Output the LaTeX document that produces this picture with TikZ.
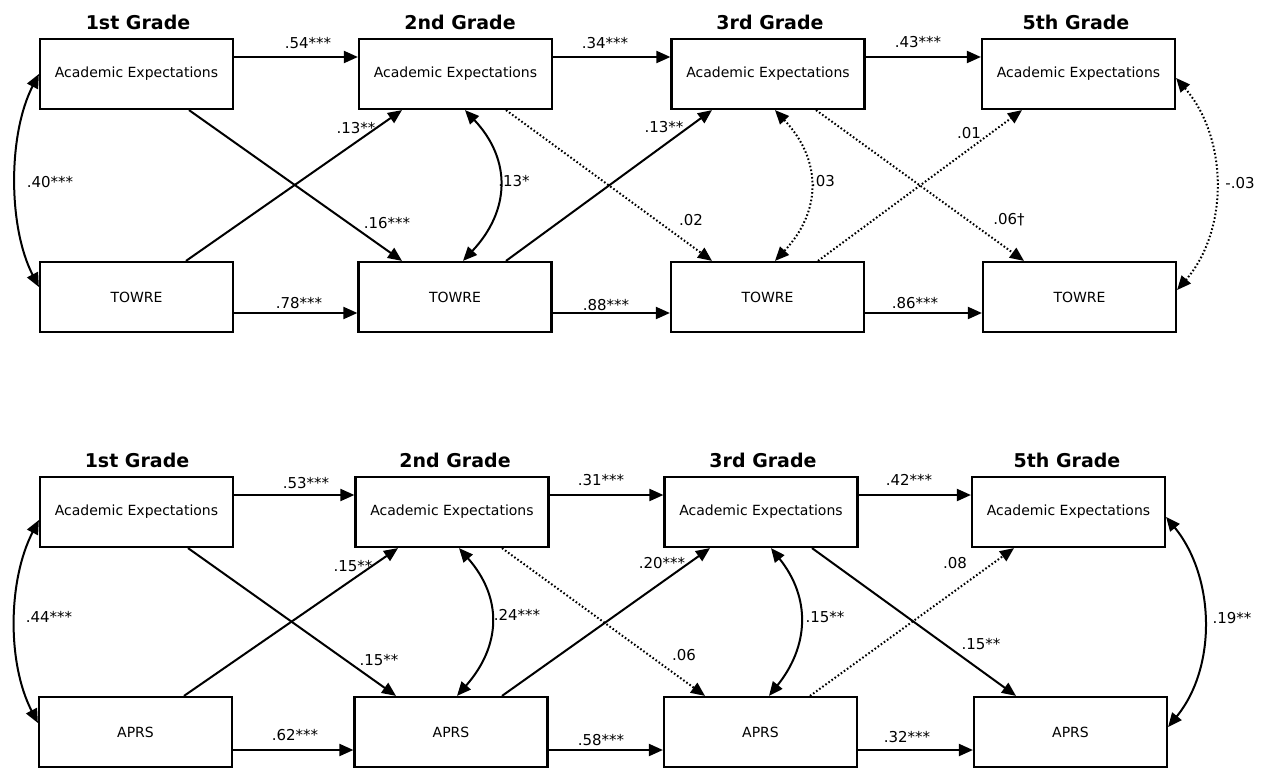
\documentclass[tikz,border=0pt]{standalone}
\usepackage{fontspec}
\setmainfont{DejaVu Sans}
\usetikzlibrary{arrows.meta}
\begin{document}
\begin{tikzpicture}[x=1pt,y=-1pt,
  box/.style={draw, line width=2.2pt, minimum width=193pt, minimum height=70pt, inner sep=0pt, font=\fontsize{14}{16}\selectfont},
  gradetitle/.style={font=\fontsize{19}{22}\selectfont\bfseries, inner sep=0pt},
  lab/.style={font=\fontsize{15}{17}\selectfont, inner sep=0pt},
  >={Triangle[length=14pt,width=12pt]},
  reg/.style={line width=2pt, ->},
  regdot/.style={line width=2pt, ->, dash pattern=on 1.6pt off 2.2pt},
  cov/.style={line width=2pt, <->},
  covdot/.style={line width=2pt, <->, dash pattern=on 1.6pt off 2.2pt}
]
\useasboundingbox (0,0) rectangle (1274,770);

% ---------------- top panel ----------------
\node[gradetitle] (g1) at (138,22) {1st Grade};
\node[gradetitle] (g2) at (460,22) {2nd Grade};
\node[gradetitle] (g3) at (770,22) {3rd Grade};
\node[gradetitle] (g5) at (1076,22) {5th Grade};

\node[box] (a1) at (136.5,74) {Academic Expectations};
\node[box] (a2) at (455.5,74) {Academic Expectations};
\node[box] (a3) at (768,74) {Academic Expectations};
\node[box] (a5) at (1078.5,74) {Academic Expectations};
\node[box] (t1) at (136.5,297) {TOWRE};
\node[box] (t2) at (455,297) {TOWRE};
\node[box] (t3) at (767.5,297) {TOWRE};
\node[box] (t5) at (1079.5,297) {TOWRE};

\draw[reg] ([yshift=17pt]a1.east) -- ([yshift=17pt]a2.west);
\draw[reg] ([yshift=17pt]a2.east) -- ([yshift=17pt]a3.west);
\draw[reg] ([yshift=17pt]a3.east) -- ([yshift=17pt]a5.west);
\draw[reg] ([yshift=-16pt]t1.east) -- ([yshift=-16pt]t2.west);
\draw[reg] ([yshift=-16pt]t2.east) -- ([yshift=-16pt]t3.west);
\draw[reg] ([yshift=-16pt]t3.east) -- ([yshift=-16pt]t5.west);

\draw[reg] ([xshift=52.5pt]a1.south) -- ([xshift=-53pt]t2.north);
\draw[reg] ([xshift=49.5pt]t1.north) -- ([xshift=-53.5pt]a2.south);
\draw[reg] ([xshift=51pt]t2.north) -- ([xshift=-56pt]a3.south);
\draw[regdot] ([xshift=50.5pt]a2.south) -- ([xshift=-55.5pt]t3.north);
\draw[regdot] ([xshift=48pt]a3.south) -- ([xshift=-55.5pt]t5.north);
\draw[regdot] ([xshift=50.5pt]t3.north) -- ([xshift=-56.5pt]a5.south);

\draw[cov] (a1.west) .. controls +(-31,60) and +(-31,-60) .. ([yshift=10pt]t1.west);
\draw[cov] ([xshift=9.5pt]a2.south) .. controls +(47,50) and +(47,-50) .. ([xshift=8pt]t2.north);
\draw[covdot] ([xshift=7pt]a3.south) .. controls +(47,50) and +(47,-50) .. ([xshift=7.5pt]t3.north);
\draw[covdot] ([yshift=-4pt]a5.east) .. controls +(52,60) and +(52,-60) .. ([yshift=7pt]t5.east);

\node[lab] (l1) at (308,43) {.54***};
\node[lab] (l2) at (605,43) {.34***};
\node[lab] (l3) at (918,42) {.43***};
\node[lab] (l4) at (299,303) {.78***};
\node[lab] (l5) at (606,305) {.88***};
\node[lab] (l6) at (915,303) {.86***};
\node[lab] (l7) at (50,182) {.40***};
\node[lab] (l8) at (356,128) {.13**};
\node[lab] (l9) at (387,223) {.16***};
\node[lab] (l10) at (514,181) {.13*};
\node[lab] (l11) at (664,127) {.13**};
\node[lab] (l12) at (691,220) {.02};
\node[lab] (l13) at (823,181) {.03};
\node[lab] (l14) at (1009,220) {.06†};
\node[lab] (l15) at (969,133) {.01};
\node[lab] (l16) at (1240,183) {-.03};

% ---------------- bottom panel ----------------
\node[gradetitle] (h1) at (137,460) {1st Grade};
\node[gradetitle] (h2) at (455,460) {2nd Grade};
\node[gradetitle] (h3) at (763,460) {3rd Grade};
\node[gradetitle] (h5) at (1067,460) {5th Grade};

\node[box] (b1) at (136.5,512) {Academic Expectations};
\node[box] (b2) at (452,512) {Academic Expectations};
\node[box] (b3) at (761,512) {Academic Expectations};
\node[box] (b5) at (1068.5,512) {Academic Expectations};
\node[box] (p1) at (135.5,732) {APRS};
\node[box] (p2) at (451,732) {APRS};
\node[box] (p3) at (760.5,732) {APRS};
\node[box] (p5) at (1070.5,732) {APRS};

\draw[reg] ([yshift=17pt]b1.east) -- ([yshift=17pt]b2.west);
\draw[reg] ([yshift=17pt]b2.east) -- ([yshift=17pt]b3.west);
\draw[reg] ([yshift=17pt]b3.east) -- ([yshift=17pt]b5.west);
\draw[reg] ([yshift=-18pt]p1.east) -- ([yshift=-18pt]p2.west);
\draw[reg] ([yshift=-18pt]p2.east) -- ([yshift=-18pt]p3.west);
\draw[reg] ([yshift=-18pt]p3.east) -- ([yshift=-18pt]p5.west);

\draw[reg] ([xshift=51.5pt]b1.south) -- ([xshift=-55pt]p2.north);
\draw[reg] ([xshift=48.5pt]p1.north) -- ([xshift=-54pt]b2.south);
\draw[reg] ([xshift=51pt]p2.north) -- ([xshift=-51pt]b3.south);
\draw[regdot] ([xshift=50pt]b2.south) -- ([xshift=-55.5pt]p3.north);
\draw[reg] ([xshift=51pt]b3.south) -- ([xshift=-54.5pt]p5.north);
\draw[regdot] ([xshift=49.5pt]p3.north) -- ([xshift=-54.5pt]b5.south);

\draw[cov] ([yshift=-8pt]b1.west) .. controls +(-31,60) and +(-31,-60) .. ([yshift=9pt]p1.west);
\draw[cov] ([xshift=7pt]b2.south) .. controls +(44,50) and +(44,-50) .. ([xshift=6pt]p2.north);
\draw[cov] ([xshift=10pt]b3.south) .. controls +(40,50) and +(40,-50) .. ([xshift=8.5pt]p3.north);
\draw[cov] ([yshift=-5pt]b5.east) .. controls +(49,60) and +(49,-60) .. ([yshift=5pt]p5.east);

\node[lab] (m1) at (306,483) {.53***};
\node[lab] (m2) at (601,480) {.31***};
\node[lab] (m3) at (909,480) {.42***};
\node[lab] (m4) at (295,735) {.62***};
\node[lab] (m5) at (601,740) {.58***};
\node[lab] (m6) at (907,737) {.32***};
\node[lab] (m7) at (49,617) {.44***};
\node[lab] (m8) at (353,566) {.15**};
\node[lab] (m9) at (379,660) {.15**};
\node[lab] (m10) at (517,615) {.24***};
\node[lab] (m11) at (662,563) {.20***};
\node[lab] (m12) at (684,655) {.06};
\node[lab] (m13) at (825,617) {.15**};
\node[lab] (m14) at (981,644) {.15**};
\node[lab] (m15) at (955,563) {.08};
\node[lab] (m16) at (1232,618) {.19**};
\end{tikzpicture}
\end{document}
